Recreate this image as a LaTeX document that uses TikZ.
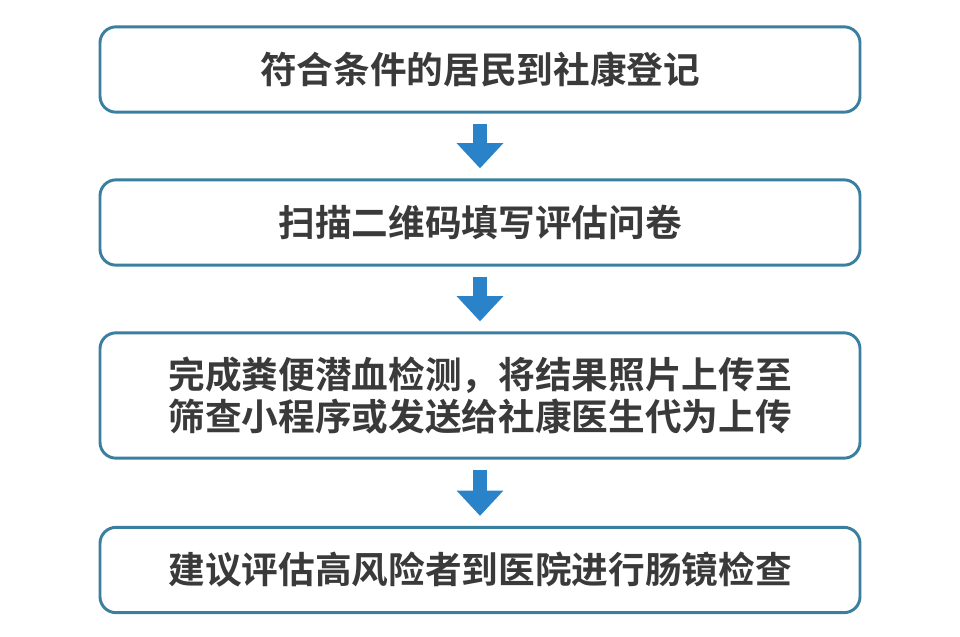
\documentclass[tikz,border=0pt]{standalone}
\usepackage{fontspec}
\setmainfont{Noto Sans CJK SC}[BoldFont={* Bold}]
\usetikzlibrary{positioning,arrows.meta}
\definecolor{boxline}{HTML}{3A7F9F}
\definecolor{arrowblue}{HTML}{2A82C9}
\definecolor{textgrey}{HTML}{3A3A3A}
\tikzset{
  stepbox/.style={draw=boxline,line width=2.2pt,rounded corners=12pt,fill=white,
    minimum width=570pt,minimum height=64pt,align=center,text=textgrey,
    font=\fontsize{27.5pt}{32pt}\selectfont\bfseries},
  flowarrow/.style={draw=arrowblue,line width=10pt,
    -{Triangle[width=34pt,length=19pt]},shorten <=7.5pt,shorten >=7.5pt}
}
\begin{document}
\begin{tikzpicture}[x=0.75pt,y=-0.75pt]
  \useasboundingbox (0,0) rectangle (960,636);
  \node[stepbox] (reg) at (480,69.5) {符合条件的居民到社康登记};
  \node[stepbox] (scan) at (480,222.5) {扫描二维码填写评估问卷};
  \node[stepbox,minimum height=94pt] (test) at (480,395.5)
    {完成粪便潜血检测，将结果照片上传至\\筛查小程序或发送给社康医生代为上传};
  \node[stepbox] (colono) at (480,570) {建议评估高风险者到医院进行肠镜检查};
  \draw[flowarrow] (reg) -- (scan);
  \draw[flowarrow] (scan) -- (test);
  \draw[flowarrow] (test) -- (colono);
\end{tikzpicture}
\end{document}
